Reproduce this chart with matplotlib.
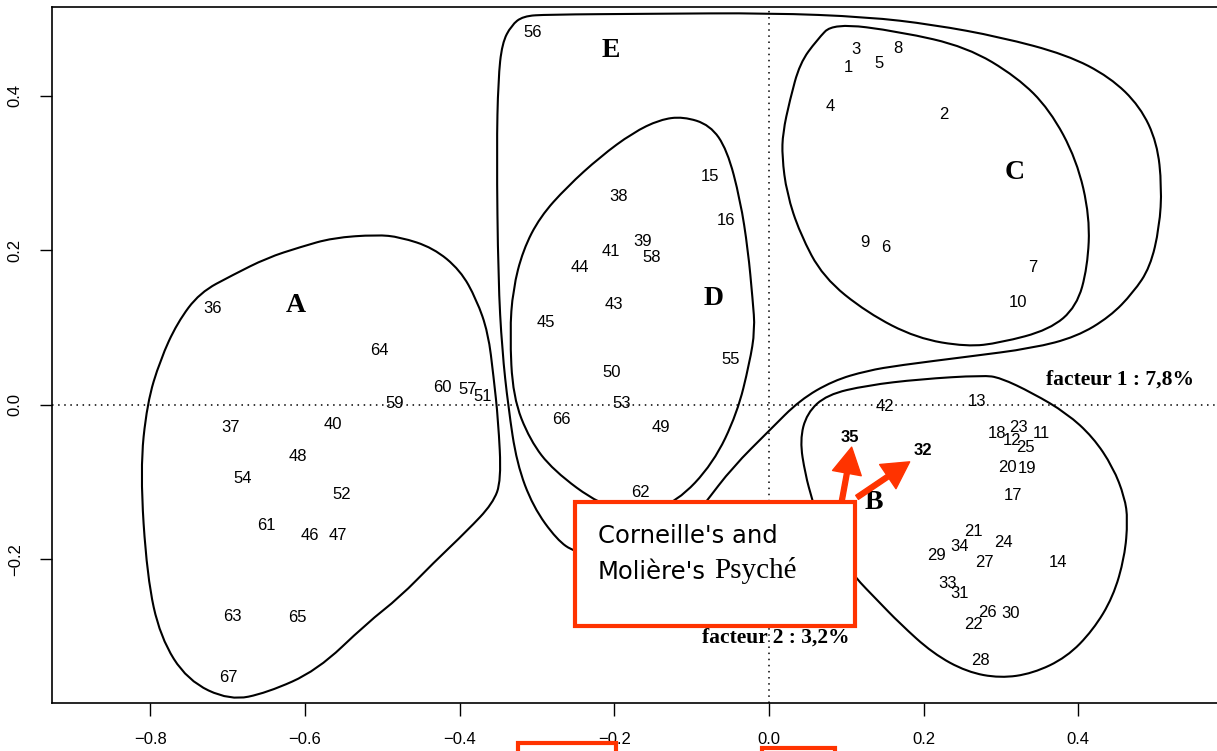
import numpy as np
import matplotlib
matplotlib.use('Agg')
import matplotlib.pyplot as plt
from matplotlib.path import Path
from matplotlib.patches import PathPatch, Rectangle

# point labels (play numbers) and their coordinates on the two factors
labels = [str(i) for i in range(1, 68)]
fact1 = [0.103, 0.226, 0.113, 0.079, 0.142, 0.151, 0.341, 0.167, 0.124, 0.322,
         0.352, 0.314, 0.269, 0.374, -0.076, -0.056, 0.315, 0.295, 0.334, 0.308,
         0.264, 0.265, 0.323, 0.303, 0.332, 0.283, 0.279, 0.274, 0.217, 0.313,
         0.247, 0.199, 0.231, 0.246, 0.105, -0.719, -0.696, -0.195, -0.163, -0.564,
         -0.204, 0.150, -0.200, -0.244, -0.288, -0.593, -0.557, -0.609, -0.140, -0.203,
         -0.370, -0.553, -0.191, -0.680, -0.050, -0.305, -0.389, -0.151, -0.484, -0.422,
         -0.650, -0.166, -0.694, -0.504, -0.610, -0.268, -0.699]
fact2 = [0.436, 0.375, 0.460, 0.386, 0.441, 0.203, 0.178, 0.461, 0.210, 0.132,
         -0.037, -0.047, 0.004, -0.204, 0.296, 0.238, -0.118, -0.037, -0.083, -0.081,
         -0.164, -0.285, -0.029, -0.178, -0.056, -0.269, -0.204, -0.331, -0.195, -0.270,
         -0.244, -0.059, -0.232, -0.184, -0.043, 0.125, -0.029, 0.269, 0.211, -0.026,
         0.198, -0.003, 0.130, 0.178, 0.107, -0.169, -0.169, -0.067, -0.029, 0.041,
         0.010, -0.116, 0.002, -0.095, 0.059, 0.482, 0.020, 0.191, 0.002, 0.022,
         -0.156, -0.114, -0.274, 0.070, -0.275, -0.019, -0.353]
bold_labels = ['32', '35']

# group letters
groups = ['A', 'B', 'C', 'D', 'E']
group_x = [-0.612, 0.136, 0.318, -0.071, -0.205]
group_y = [0.129, -0.127, 0.300, 0.138, 0.459]

# outlines of the groups (control points)
outline_a_x = [-0.507, -0.477, -0.434, -0.399, -0.378, -0.363, -0.356, -0.350, -0.346, -0.357,
               -0.390, -0.434, -0.477, -0.520, -0.584, -0.649, -0.697, -0.752, -0.787, -0.804,
               -0.813, -0.804, -0.787, -0.765, -0.736, -0.693, -0.649, -0.606, -0.564]
outline_a_y = [0.220, 0.217, 0.203, 0.174, 0.136, 0.093, 0.036, -0.020, -0.098, -0.128,
               -0.163, -0.205, -0.249, -0.283, -0.344, -0.373, -0.383, -0.357, -0.301, -0.223,
               -0.085, 0.002, 0.058, 0.106, 0.145, 0.168, 0.190, 0.204, 0.216]

outline_e_x = [-0.287, -0.154, 0.001, 0.127, 0.212, 0.299, 0.385, 0.441, 0.480, 0.502,
               0.508, 0.505, 0.493, 0.471, 0.441, 0.398, 0.341, 0.256, 0.169, 0.127,
               0.083, 0.040, 0.001, -0.047, -0.083, -0.115, -0.154, -0.203, -0.251, -0.274,
               -0.305, -0.326, -0.337, -0.345, -0.350, -0.352, -0.350, -0.345, -0.333, -0.318]
outline_e_y = [0.505, 0.506, 0.507, 0.502, 0.492, 0.476, 0.453, 0.424, 0.386, 0.339,
               0.282, 0.230, 0.178, 0.145, 0.114, 0.088, 0.073, 0.062, 0.051, 0.044,
               0.031, 0.006, -0.033, -0.081, -0.128, -0.169, -0.191, -0.201, -0.191, -0.175,
               -0.132, -0.076, -0.003, 0.071, 0.162, 0.330, 0.421, 0.468, 0.491, 0.503]

outline_d_x = [-0.111, -0.076, -0.054, -0.037, -0.027, -0.021, -0.018, -0.025, -0.041, -0.072,
               -0.119, -0.167, -0.218, -0.279, -0.309, -0.331, -0.335, -0.331, -0.318, -0.296,
               -0.261, -0.218, -0.176, -0.141]
outline_d_y = [0.373, 0.362, 0.330, 0.265, 0.200, 0.136, 0.097, 0.054, -0.011, -0.076,
               -0.126, -0.142, -0.130, -0.085, -0.046, 0.010, 0.093, 0.149, 0.200, 0.243,
               0.282, 0.321, 0.352, 0.369]

outline_c_x = [0.083, 0.169, 0.256, 0.321, 0.363, 0.398, 0.415, 0.412, 0.398, 0.363,
               0.299, 0.256, 0.191, 0.127, 0.070, 0.040, 0.023, 0.017, 0.018, 0.027,
               0.040, 0.062]
outline_c_y = [0.494, 0.483, 0.463, 0.424, 0.382, 0.317, 0.243, 0.178, 0.127, 0.097,
               0.080, 0.075, 0.086, 0.119, 0.165, 0.222, 0.274, 0.321, 0.352, 0.394,
               0.442, 0.472]

outline_b_x = [0.277, 0.299, 0.341, 0.385, 0.419, 0.445, 0.460, 0.464, 0.460, 0.445,
               0.419, 0.385, 0.341, 0.299, 0.256, 0.212, 0.169, 0.140, 0.111, 0.085,
               0.066, 0.056, 0.047, 0.040, 0.049, 0.075, 0.127, 0.195]
outline_b_y = [0.038, 0.035, 0.015, -0.011, -0.042, -0.081, -0.120, -0.149, -0.197, -0.249,
               -0.292, -0.327, -0.348, -0.354, -0.346, -0.322, -0.283, -0.253, -0.223, -0.188,
               -0.156, -0.123, -0.090, -0.046, -0.011, 0.013, 0.025, 0.033]

x_ticks = [-0.8, -0.6, -0.4, -0.2, 0.0, 0.2, 0.4]
y_ticks = [-0.2, 0.0, 0.2, 0.4]

RED = '#ff3300'


def closed_outline(xs, ys):
    # quadratic bezier through the midpoints, using the given points as controls
    pts = np.column_stack([xs, ys])
    mids = (pts + np.roll(pts, -1, axis=0)) / 2
    verts = [mids[-1]]
    codes = [Path.MOVETO]
    for p, m in zip(pts, mids):
        verts += [p, m]
        codes += [Path.CURVE3, Path.CURVE3]
    return Path(verts, codes)


fig = plt.figure(figsize=(12.17, 7.51), dpi=100)
ax = fig.add_axes([0.0427, 0.0639, 0.9704, 0.9268])
ax.set_xlim(-0.927, 0.600)
ax.set_ylim(-0.3862, 0.5148)

# dotted axes through the origin
ax.axhline(0, color='black', lw=1.1, ls=(0, (1, 3)), zorder=1)
ax.axvline(0, color='black', lw=1.1, ls=(0, (1, 3)), zorder=1)

# group outlines
for ox, oy in [(outline_a_x, outline_a_y), (outline_e_x, outline_e_y),
               (outline_d_x, outline_d_y), (outline_c_x, outline_c_y),
               (outline_b_x, outline_b_y)]:
    ax.add_patch(PathPatch(closed_outline(ox, oy), fill=False, ec='black', lw=1.5, zorder=2))

# numbers
for lab, xv, yv in zip(labels, fact1, fact2):
    ax.text(xv, yv, lab, ha='center', va='center', fontsize=12,
            family='Liberation Sans',
            fontweight='bold' if lab in bold_labels else 'normal', zorder=3)

# group letters
for g, gx, gy in zip(groups, group_x, group_y):
    ax.text(gx, gy, g, ha='center', va='center', fontsize=20,
            family='Liberation Serif', fontweight='bold', zorder=3)

ax.text(0.454, 0.032, 'facteur 1 : 7,8%', ha='center', va='center', fontsize=15.5,
        family='Liberation Serif', fontweight='bold', zorder=3)
ax.text(0.0084, -0.301, 'facteur 2 : 3,2%', ha='center', va='center', fontsize=15.5,
        family='Liberation Serif', fontweight='bold', zorder=3)

# annotation box and arrows
ax.add_patch(Rectangle((-0.251, -0.287), 0.362, 0.161, fc='white', ec=RED, lw=3, zorder=5))
ax.text(-0.221, -0.179, "Corneille's and", ha='left', va='baseline', fontsize=17.5,
        family='DejaVu Sans', zorder=6)
t2 = ax.text(-0.221, -0.226, "Molière's", ha='left', va='baseline', fontsize=17.5,
             family='DejaVu Sans', zorder=6)
ax.annotate('Psyché', xy=(1, 0), xycoords=t2, xytext=(6, 0), textcoords='offset points',
            ha='left', va='bottom', fontsize=21, family='Liberation Serif', zorder=6)

arrow_style = dict(color=RED, width=3.5, headwidth=21, headlength=19)
ax.annotate('', xy=(0.107, -0.055), xytext=(0.094, -0.126), arrowprops=arrow_style, zorder=6)
ax.annotate('', xy=(0.182, -0.074), xytext=(0.114, -0.120), arrowprops=arrow_style, zorder=6)

# axes styling (R look)
ax.set_xticks(x_ticks)
ax.set_yticks(y_ticks)
ax.tick_params(direction='out', length=9, width=1, labelsize=12, pad=12)
ax.tick_params(axis='y', labelrotation=90)
for lab in ax.get_yticklabels():
    lab.set_va('center')
    lab.set_family('Liberation Sans')
for lab in ax.get_xticklabels():
    lab.set_family('Liberation Sans')
for sp in ax.spines.values():
    sp.set_linewidth(1.2)

# cut-off red frames at the bottom
fig.add_artist(Rectangle((0.4256, -0.05), 0.0806, 0.0607, transform=fig.transFigure,
                         fill=False, ec=RED, lw=3, clip_on=False))
fig.add_artist(Rectangle((0.6261, -0.05), 0.0600, 0.0540, transform=fig.transFigure,
                         fill=False, ec=RED, lw=3, clip_on=False))

plt.savefig('out.png', dpi=100)
